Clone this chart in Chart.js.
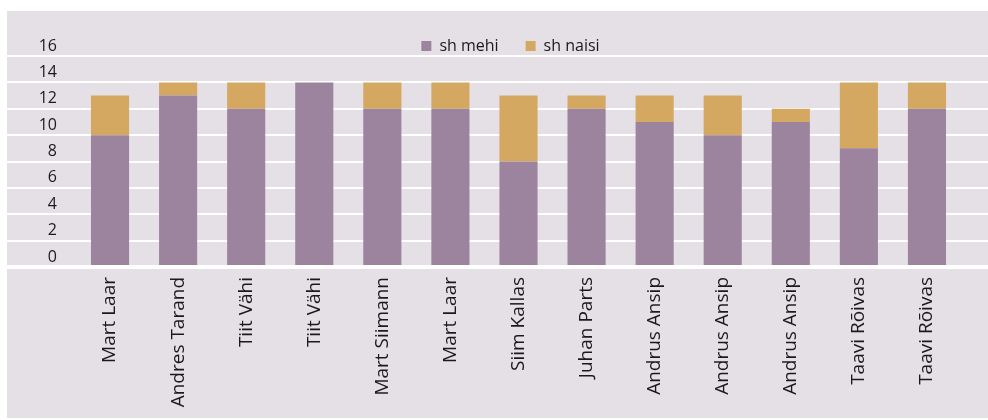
<!DOCTYPE html>
<html>
<head>
<meta charset="utf-8">
<script src="https://cdn.jsdelivr.net/npm/chart.js@4/dist/chart.umd.min.js"></script>
<style>
    body { margin: 0; background: #ffffff; }
    .panel {
        position: absolute;
        left: 7px;
        top: 11px;
        width: 981px;
        height: 407px;
        background: #e5e0e6;
    }
</style>
</head>
<body>
<div class="panel">
    <canvas id="govChart" width="981" height="407"></canvas>
</div>
<script>
// Chart data
const categories = [
    'Mart Laar', 'Andres Tarand', 'Tiit Vähi', 'Tiit Vähi', 'Mart Siimann',
    'Mart Laar', 'Siim Kallas', 'Juhan Parts', 'Andrus Ansip', 'Andrus Ansip',
    'Andrus Ansip', 'Taavi Rõivas', 'Taavi Rõivas'
];
const menValues = [10, 13, 12, 14, 12, 12, 8, 12, 11, 10, 11, 9, 12];
const womenValues = [3, 1, 2, 0, 2, 2, 5, 1, 2, 3, 1, 5, 2];
const yTicks = [0, 2, 4, 6, 8, 10, 12, 14, 16];

const fontFamily = "'Open Sans', 'Noto Sans', sans-serif";
const textColor = '#1a1a1a';

// Legend sits low, right above the plot: fix its box height and nudge it right
const legendBox = {
    id: 'legendBox',
    beforeInit: function(chart) {
        const origFit = chart.legend.fit;
        chart.legend.fit = function() {
            origFit.call(this);
            this.height = 45;
        };
    },
    afterLayout: function(chart) {
        chart.legend.left += 13;
        chart.legend.right += 13;
    }
};

document.addEventListener('DOMContentLoaded', function() {
    const ctx = document.getElementById('govChart');

    // Gridline width: the zero line is drawn heavier
    const gridWidth = function(c) {
        return c.tick && c.tick.value === 0 ? 4 : 2;
    };

    new Chart(ctx, {
        type: 'bar',
        data: {
            labels: categories,
            datasets: [
                {
                    label: 'sh mehi',
                    data: menValues,
                    backgroundColor: '#9c849f',
                    yAxisID: 'y'
                },
                {
                    label: 'sh naisi',
                    data: womenValues,
                    backgroundColor: '#d5a862',
                    yAxisID: 'y'
                }
            ]
        },
        options: {
            responsive: false,
            animation: false,
            devicePixelRatio: 1,
            layout: {
                padding: 0
            },
            datasets: {
                bar: {
                    barPercentage: 0.56,
                    categoryPercentage: 1
                }
            },
            plugins: {
                legend: {
                    position: 'top',
                    labels: {
                        boxWidth: 10,
                        boxHeight: 10,
                        padding: 27,
                        color: textColor,
                        font: { family: fontFamily, size: 16 }
                    }
                },
                tooltip: { enabled: false }
            },
            scales: {
                x: {
                    stacked: true,
                    grid: { display: false, drawTicks: false },
                    border: { display: false },
                    ticks: {
                        autoSkip: false,
                        minRotation: 90,
                        maxRotation: 90,
                        padding: 10,
                        color: textColor,
                        font: { family: fontFamily, size: 19 }
                    },
                    afterFit: function(scale) {
                        scale.height = 151;
                    }
                },
                y: {
                    stacked: true,
                    position: 'left',
                    min: yTicks[0],
                    max: yTicks[yTicks.length - 1],
                    afterBuildTicks: function(scale) {
                        scale.ticks = yTicks.map(v => ({ value: v }));
                    },
                    grid: {
                        color: '#ffffff',
                        lineWidth: gridWidth,
                        tickLength: 69
                    },
                    border: { display: false },
                    ticks: {
                        padding: -50,
                        labelOffset: -10,
                        color: textColor,
                        font: { family: fontFamily, size: 16 }
                    },
                    afterFit: function(scale) {
                        scale.width = 69;
                    }
                },
                y2: {
                    position: 'right',
                    min: yTicks[0],
                    max: yTicks[yTicks.length - 1],
                    afterBuildTicks: function(scale) {
                        scale.ticks = yTicks.map(v => ({ value: v }));
                    },
                    grid: {
                        color: '#ffffff',
                        lineWidth: gridWidth,
                        drawOnChartArea: false,
                        tickLength: 40
                    },
                    border: { display: false },
                    ticks: { display: false },
                    afterFit: function(scale) {
                        scale.width = 27;
                    }
                }
            }
        },
        plugins: [legendBox]
    });
});
</script>
</body>
</html>
